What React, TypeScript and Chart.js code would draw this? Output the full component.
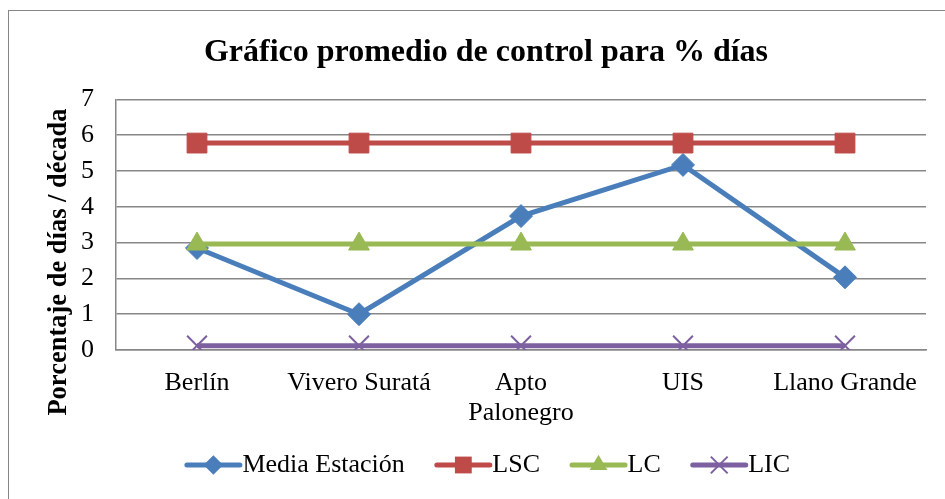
import React, { useEffect, useRef } from "react";
import { Chart, registerables } from "chart.js";

Chart.register(...registerables);

const categories: (string | string[])[] = ["Berlín", "Vivero Suratá", ["Apto", "Palonegro"], "UIS", "Llano Grande"];
const mediaEstacion = [2.85, 1.0, 3.74, 5.17, 2.03];
const lsc = [5.78, 5.78, 5.78, 5.78, 5.78];
const lc = [2.96, 2.96, 2.96, 2.96, 2.96];
const lic = [0.12, 0.12, 0.12, 0.12, 0.12];
const seriesNames = ["Media Estación", "LSC", "LC", "LIC"];
const yMin = 0;
const yMax = 7;
const yStep = 1;
const chartTitle = "Gráfico promedio de control para % días";
const yAxisTitle = "Porcentaje de días / década";

const SERIF = "'Liberation Serif', 'Times New Roman', serif";
const GRID = "#878787";

const colors = ["#4A7EBB", "#BE4B48", "#98B954", "#7D60A0"];
const styles = ["rectRot", "rect", "triangle", "crossRot"];
const radii = [11.5, 14, 12, 14];

const LINE_OFFSET = 5;
const LINE_LEN = 53;
const BOX_W = 47.5;

function drawMarker(ctx: CanvasRenderingContext2D, style: string, x: number, y: number, r: number, color: string) {
  ctx.save();
  ctx.fillStyle = color;
  ctx.strokeStyle = color;
  ctx.beginPath();
  if (style === "rectRot") {
    ctx.moveTo(x - r, y);
    ctx.lineTo(x, y - r);
    ctx.lineTo(x + r, y);
    ctx.lineTo(x, y + r);
    ctx.closePath();
    ctx.fill();
  } else if (style === "rect") {
    const s = Math.SQRT1_2 * r;
    ctx.rect(x - s, y - s, 2 * s, 2 * s);
    ctx.fill();
  } else if (style === "triangle") {
    ctx.moveTo(x, y - r);
    ctx.lineTo(x + r * Math.sin(Math.PI / 3), y + r / 2);
    ctx.lineTo(x - r * Math.sin(Math.PI / 3), y + r / 2);
    ctx.closePath();
    ctx.fill();
  } else {
    const o = Math.SQRT1_2 * r;
    ctx.lineWidth = 2;
    ctx.moveTo(x - o, y - o);
    ctx.lineTo(x + o, y + o);
    ctx.moveTo(x + o, y - o);
    ctx.lineTo(x - o, y + o);
    ctx.stroke();
  }
  ctx.restore();
}

const framePlugin = {
  id: "frameAndExtras",
  beforeDraw(chart: any) {
    const ctx = chart.ctx;
    ctx.save();
    ctx.strokeStyle = "#868686";
    ctx.lineWidth = 1;
    ctx.strokeRect(8.5, 10.5, 2000, 2000);
    ctx.restore();
  },
  afterDraw(chart: any) {
    const ctx: CanvasRenderingContext2D = chart.ctx;
    // y-axis title
    ctx.save();
    ctx.translate(59, 262);
    ctx.rotate(-Math.PI / 2);
    ctx.font = `bold 26.5px ${SERIF}`;
    ctx.fillStyle = "#000";
    ctx.textAlign = "center";
    ctx.textBaseline = "middle";
    ctx.fillText(yAxisTitle, 0, 0);
    ctx.restore();
    // legend lines + markers
    const boxes = chart.legend?.legendHitBoxes || [];
    boxes.forEach((b: any, i: number) => {
      const y = b.top + b.height / 2;
      const x0 = b.left + LINE_OFFSET;
      const x1 = x0 + LINE_LEN;
      ctx.save();
      ctx.strokeStyle = colors[i];
      ctx.lineWidth = 5;
      ctx.lineCap = "round";
      ctx.beginPath();
      ctx.moveTo(x0, y);
      ctx.lineTo(x1, y);
      ctx.stroke();
      ctx.restore();
      drawMarker(ctx, styles[i], (x0 + x1) / 2, y, radii[i] * 0.85, colors[i]);
    });
  },
};

export default function App() {
  const ref = useRef<HTMLCanvasElement | null>(null);
  useEffect(() => {
    if (!ref.current) return;
    const seriesData = [mediaEstacion, lsc, lc, lic];
    const chart = new Chart(ref.current, {
      type: "line",
      data: {
        labels: categories as any,
        datasets: seriesData.map((d, i) => ({
          label: seriesNames[i],
          data: d,
          borderColor: colors[i],
          backgroundColor: colors[i],
          pointBackgroundColor: colors[i],
          pointBorderColor: colors[i],
          pointBorderWidth: i === 3 ? 2 : 1,
          borderWidth: 5,
          pointStyle: styles[i] as any,
          pointRadius: radii[i],
          pointHoverRadius: radii[i],
          tension: 0,
          fill: false,
          order: 4 - i,
        })),
      },
      options: {
        animation: false,
        responsive: false,
        devicePixelRatio: 1,
        events: [],
        layout: { padding: { left: 46, right: 19, top: 10, bottom: 11 } },
        plugins: {
          title: {
            display: true,
            text: chartTitle,
            color: "#000",
            font: { family: SERIF, size: 32, weight: "bold" },
            padding: { top: 24, bottom: 27 },
          },
          legend: {
            display: true,
            position: "bottom",
            labels: {
              boxWidth: BOX_W,
              boxHeight: 10,
              padding: 27,
              color: "#000",
              font: { family: SERIF, size: 26 },
              generateLabels: (c: any) =>
                c.data.datasets.map((ds: any, i: number) => ({
                  text: ds.label,
                  fillStyle: "rgba(0,0,0,0)",
                  strokeStyle: "rgba(0,0,0,0)",
                  lineWidth: 0,
                  hidden: false,
                  datasetIndex: i,
                })),
            },
          },
          tooltip: { enabled: false },
        },
        scales: {
          x: {
            type: "category",
            offset: true,
            grid: { display: false, drawTicks: false },
            border: { display: true, color: GRID, width: 1.5 },
            ticks: {
              color: "#000",
              font: { family: SERIF, size: 26, lineHeight: 1.15 },
              padding: 18,
              maxRotation: 0,
              autoSkip: false,
            },
            afterFit: (s: any) => {
              s.height = 75;
            },
          },
          y: {
            min: yMin,
            max: yMax,
            grid: { color: GRID, lineWidth: 1.5, drawTicks: false },
            border: { display: true, color: GRID, width: 1.5 },
            ticks: {
              stepSize: yStep,
              color: "#000",
              font: { family: SERIF, size: 26 },
              padding: 22,
            },
            afterFit: (s: any) => {
              s.width = 70;
            },
          },
        },
      },
      plugins: [framePlugin],
    });
    return () => chart.destroy();
  }, []);
  return (
    <div style={{ position: "absolute", left: 0, top: 0, width: 945, height: 499 }}>
      <canvas ref={ref} width={945} height={499} style={{ display: "block" }} />
    </div>
  );
}
